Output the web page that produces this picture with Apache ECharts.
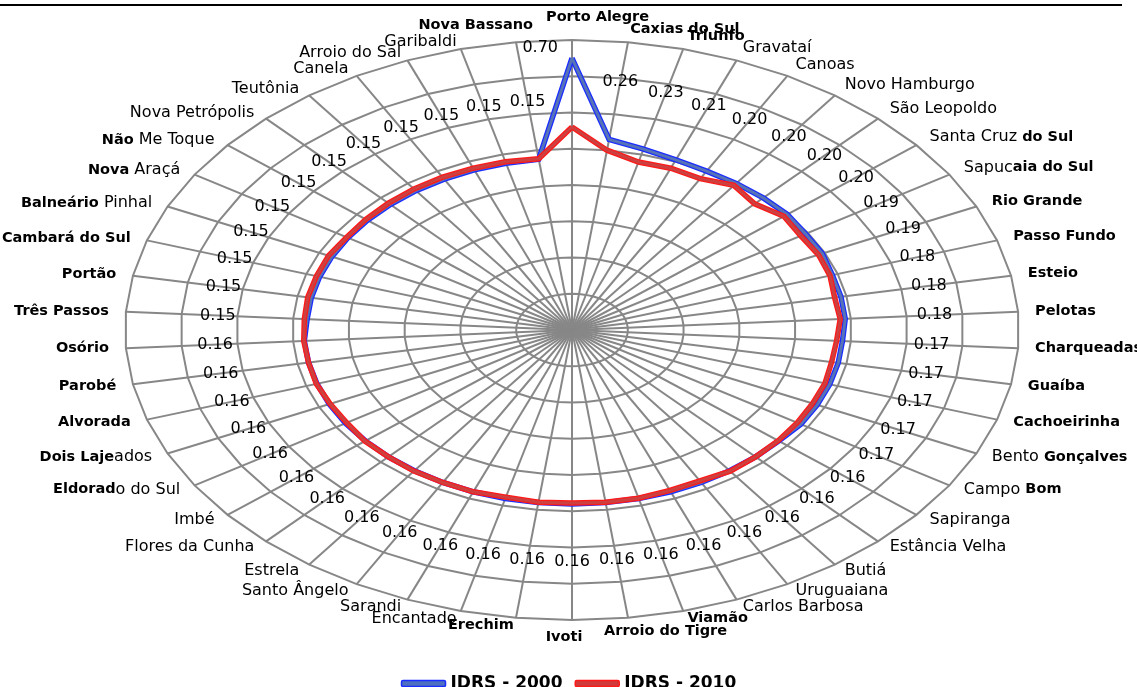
<!DOCTYPE html>
<html>
<head>
<meta charset="utf-8">
<script src="https://cdn.jsdelivr.net/npm/echarts@6/dist/echarts.min.js"></script>
<style>
html,body{margin:0;padding:0;background:#fff;}
#chart{width:1137px;height:687px;}
</style>
</head>
<body>
<div id="chart"></div>
<script>
// ---------- data ----------
const categories = ['Porto Alegre','Caxias do Sul','Triunfo','Gravataí','Canoas','Novo Hamburgo','São Leopoldo','Santa Cruz do Sul','Sapucaia do Sul','Rio Grande','Passo Fundo','Esteio','Pelotas','Charqueadas','Guaíba','Cachoeirinha','Bento Gonçalves','Campo Bom','Sapiranga','Estância Velha','Butiá','Uruguaiana','Carlos Barbosa','Viamão','Arroio do Tigre','Ivoti','Erechim','Encantado','Sarandi','Santo Ângelo','Estrela','Flores da Cunha','Imbé','Eldorado do Sul','Dois Lajeados','Alvorada','Parobé','Osório','Três Passos','Portão','Cambará do Sul','Balneário Pinhal','Nova Araçá','Não Me Toque','Nova Petrópolis','Teutônia','Canela','Arroio do Sal','Garibaldi','Nova Bassano'];

const idrs2000 = [0.70,0.26,0.23,0.21,0.20,0.20,0.20,0.20,0.19,0.19,0.18,0.18,0.18,0.17,0.17,0.17,0.17,0.17,
  0.16,0.16,0.16,0.16,0.16,0.16,0.16,0.16,0.16,0.16,0.16,0.16,0.16,0.16,0.16,0.16,0.16,0.16,0.16,0.16,
  0.15,0.15,0.15,0.15,0.15,0.15,0.15,0.15,0.15,0.15,0.15,0.15];

const idrs2010 = [0.32,0.20,0.157,0.16,0.153,0.186,0.155,0.184,0.17,0.175,0.171,0.157,0.162,0.149,0.146,0.152,0.152,0.155,
  0.158,0.16,0.163,0.15,0.152,0.158,0.158,0.155,0.158,0.152,0.16,0.16,0.162,0.16,0.162,0.155,0.157,0.162,0.16,0.162,
  0.16,0.163,0.162,0.163,0.155,0.158,0.16,0.162,0.162,0.16,0.158,0.152];

const axisMin = -0.8, axisMax = 0.8;
const ringTicks = [-0.6,-0.4,-0.2,0.0,0.2,0.4,0.6,0.8];

// ---------- style (bold part of each category label, '*' = whole) ----------
const nameBold = ['*','*','*','','','','','do Sul','aia do Sul','*',
  '*','*','*','*','*','*','Gonçalves','Bom','','',
  '','','','*','*','*','*','','','',
  '','','','Eldorad','Dois Laje','*','*','*','*','*',
  '*','Balneário','Nova','Não','','','','','','*'];

const FONT = 'DejaVu Sans';
const N = categories.length;
const norm = v => (v - axisMin) / (axisMax - axisMin);
const ang = i => 2 * Math.PI * i / N;
const polar = (v, i) => { const r = norm(v), t = ang(i); return [r * Math.sin(t), r * Math.cos(t)]; };
const loop = vals => { const p = vals.map((v, i) => polar(v, i)); p.push(p[0]); return p; };

function richName(i) {
  const name = categories[i], b = nameBold[i];
  if (b === '*') return '{b|' + name + '}';
  if (!b) return '{n|' + name + '}';
  const k = name.indexOf(b);
  let s = '';
  if (k > 0) s += '{n|' + name.slice(0, k) + '}';
  s += '{b|' + b + '}';
  if (k + b.length < name.length) s += '{n|' + name.slice(k + b.length) + '}';
  return s;
}

// label placement around the outer ring (pixel offsets, Excel-like)
function namePlacement(i, p) {
  const t = ang(i), s = Math.sin(t), c = Math.cos(t);
  const k = (c > 0 && i < N / 2) ? 13 : 8;
  let x = p[0] + 17 * s, y = p[1] - k * c;
  let align = i < N / 2 ? 'left' : 'right';
  if (i === 0) { align = 'left'; x = p[0] - 26; y = p[1] - 23; }
  else if (i === N - 1) { x = p[0] + 17; y = p[1] - 17; }
  else if (i === N / 2) { align = 'center'; x = p[0] - 8; y = p[1] + 17; }
  else if (i === N / 2 - 1) { x = p[0] - 24; y = p[1] + 14; }
  return {x, y, align};
}

const gridColor = '#878787';
const labelGap = 0.2;

const chart = echarts.init(document.getElementById('chart'), null, {renderer: 'canvas'});
const idx = categories.map((c, i) => [i, 0]);

const option = {
  animation: false,
  backgroundColor: '#fff',
  grid: {left: 125, top: 40, width: 894, height: 580},
  xAxis: {type: 'value', min: -1, max: 1, show: false},
  yAxis: {type: 'value', min: -1, max: 1, show: false},
  graphic: [{type: 'rect', left: 0, top: 4, shape: {width: 1122, height: 2}, style: {fill: '#000'}}],
  legend: {
    left: 'center', top: 670, itemWidth: 44, itemHeight: 6, itemGap: 12, selectedMode: false,
    textStyle: {fontFamily: FONT, fontWeight: 'bold', fontSize: 17, color: '#000'},
    data: [
      {name: 'IDRS - 2000', icon: 'roundRect', itemStyle: {color: '#4f6fc0', borderColor: '#1a2cff', borderWidth: 1.5}},
      {name: 'IDRS - 2010', icon: 'roundRect', itemStyle: {color: '#d03a3a', borderColor: '#ff1a1a', borderWidth: 1.5}}
    ]
  },
  series: [
    { // rings
      type: 'custom', silent: true, z: 1,
      data: ringTicks.map(v => [v, 0]),
      renderItem: (params, api) => {
        const r = norm(api.value(0)), pts = [];
        for (let i = 0; i <= N; i++) { const t = ang(i); pts.push(api.coord([r * Math.sin(t), r * Math.cos(t)])); }
        return {type: 'polyline', shape: {points: pts}, style: {fill: null, stroke: gridColor, lineWidth: 2}};
      }
    },
    { // spokes
      type: 'custom', silent: true, z: 1,
      data: idx,
      renderItem: (params, api) => {
        const t = ang(api.value(0));
        const p0 = api.coord([0, 0]), p1 = api.coord([Math.sin(t), Math.cos(t)]);
        return {type: 'line', shape: {x1: p0[0], y1: p0[1], x2: p1[0], y2: p1[1]}, style: {stroke: gridColor, lineWidth: 2}};
      }
    },
    {name: 'IDRS - 2000', type: 'line', z: 3, symbol: 'none', data: loop(idrs2000),
      itemStyle: {color: '#1a2cff'}, lineStyle: {color: '#1a2cff', width: 5.5, join: 'miter'}},
    {name: '_in2000', type: 'line', z: 3, symbol: 'none', silent: true, data: loop(idrs2000),
      lineStyle: {color: '#5673b8', width: 3, join: 'miter'}},
    {name: 'IDRS - 2010', type: 'line', z: 3, symbol: 'none', data: loop(idrs2010),
      itemStyle: {color: '#ff1a1a'}, lineStyle: {color: '#ff1a1a', width: 5.5, join: 'miter'}},
    {name: '_in2010', type: 'line', z: 3, symbol: 'none', silent: true, data: loop(idrs2010),
      lineStyle: {color: '#cc4040', width: 3, join: 'miter'}},
    { // category names
      type: 'custom', silent: true, z: 5,
      data: idx,
      renderItem: (params, api) => {
        const i = api.value(0), t = ang(i);
        const p = api.coord([Math.sin(t), Math.cos(t)]);
        const pl = namePlacement(i, p);
        return {type: 'text', x: pl.x, y: pl.y,
          style: {text: richName(i), align: pl.align, verticalAlign: 'middle', fontFamily: FONT, fontSize: 16, fill: '#000',
            rich: {n: {fontFamily: FONT, fontSize: 16, fontWeight: 'normal', fill: '#000'},
                   b: {fontFamily: FONT, fontSize: 14.5, fontWeight: 'bold', fill: '#000'}}}};
      }
    },
    { // value labels (IDRS 2000)
      type: 'custom', silent: true, z: 5,
      data: idx,
      renderItem: (params, api) => {
        const i = api.value(0), t = ang(i), v = idrs2000[i];
        let rl = norm(v) + labelGap, align = 'center', dx = 0;
        if (rl > 0.95) { rl = norm(v) + 0.035; align = 'right'; dx = -14; }
        const p = api.coord([rl * Math.sin(t), rl * Math.cos(t)]);
        return {type: 'text', x: p[0] + dx, y: p[1],
          style: {text: v.toFixed(2), align: align, verticalAlign: 'middle', fontFamily: FONT, fontSize: 16, fill: '#000'}};
      }
    }
  ]
};
chart.setOption(option);
</script>
</body>
</html>
